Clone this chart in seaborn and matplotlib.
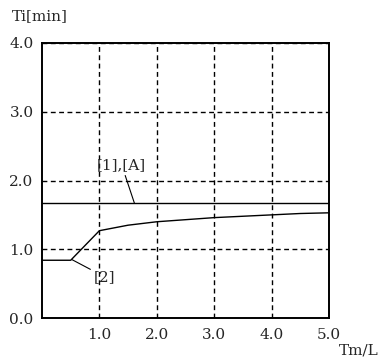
import matplotlib
matplotlib.use("Agg")
import matplotlib.pyplot as plt
import seaborn as sns
import pandas as pd

# data
tm_l = [0.0, 0.5, 1.0, 1.5, 2.0, 2.5, 3.0, 3.5, 4.0, 4.5, 5.0]
ti_2 = [0.84, 0.84, 1.27, 1.35, 1.40, 1.43, 1.46, 1.48, 1.50, 1.52, 1.53]
ti_1a = [1.67] * len(tm_l)
x_ticks = [1.0, 2.0, 3.0, 4.0, 5.0]
y_ticks = [0.0, 1.0, 2.0, 3.0, 4.0]

sns.set_style("white")
plt.rcParams['font.family'] = ['DejaVu Serif']

df = pd.DataFrame({"Tm/L": tm_l * 2,
                   "Ti": ti_1a + ti_2,
                   "curve": ["[1],[A]"] * len(tm_l) + ["[2]"] * len(tm_l)})

fig = plt.figure(figsize=(3.8, 3.58), dpi=100)
ax = fig.add_axes([42 / 380, 40 / 358, 287 / 380, 275 / 358])
sns.lineplot(data=df, x="Tm/L", y="Ti", units="curve", estimator=None,
             color="black", linewidth=1.0, ax=ax, legend=False)

ax.set_xlim(0, 5)
ax.set_ylim(0, 4)
ax.set_xticks(x_ticks)
ax.set_yticks(y_ticks)
ax.set_xticklabels([f"{v:.1f}" for v in x_ticks], fontsize=11)
ax.set_yticklabels([f"{v:.1f}" for v in y_ticks], fontsize=11)
ax.tick_params(axis="x", length=0, pad=7)
ax.tick_params(axis="y", length=0, pad=6)
ax.grid(True, color="black", linestyle=(0, (3.5, 2.5)), linewidth=1.0)
for s in ax.spines.values():
    s.set_color("black")
    s.set_linewidth(1.4)
ax.set_xlabel("")
ax.set_ylabel("")

# axis titles
fig.text(12 / 380, 1 - 16 / 358, "Ti[min]", fontsize=11, va="center", ha="left")
fig.text(379 / 380, 1 - 351 / 358, "Tm/L", fontsize=11, va="center", ha="right")

# curve labels with leader lines
ax.annotate("[1],[A]", xy=(1.61, 1.67), xytext=(1.39, 2.12),
            fontsize=11, ha="center", va="bottom",
            arrowprops=dict(arrowstyle="-", color="black", lw=0.8,
                            shrinkA=0, shrinkB=0))
ax.annotate("[2]", xy=(0.52, 0.85), xytext=(0.9, 0.6),
            fontsize=11, ha="left", va="center",
            arrowprops=dict(arrowstyle="-", color="black", lw=0.8,
                            shrinkA=0, shrinkB=0))

fig.savefig("out.png", dpi=100)
